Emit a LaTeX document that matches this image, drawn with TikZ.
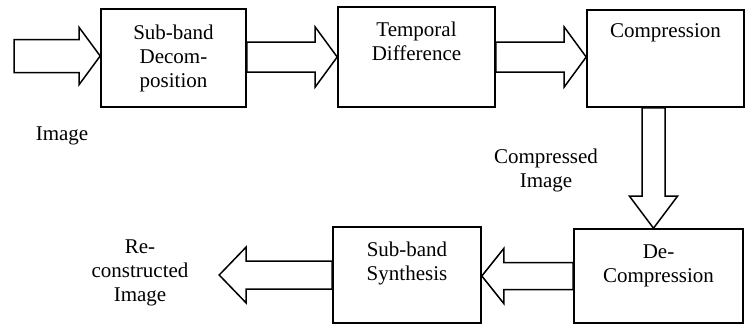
\documentclass[tikz,border=0pt]{standalone}
\usepackage{fontspec}
\setmainfont{Liberation Serif}
\usetikzlibrary{calc}
\tikzset{
  box/.style={draw, line width=1.6pt, inner sep=0pt},
  blk/.style={draw, line width=1.5pt, line join=miter, fill=white},
  txt/.style={align=center, inner sep=0pt, font=\fontsize{21}{24}\selectfont}
}
\newcommand\blkarrow[5]{%
  \coordinate (ba-n) at ($(#2)!#5!(#1)$);
  \draw[blk] ($(#1)!#3!90:(#2)$) -- ($(ba-n)!#3!-90:(#1)$) -- ($(ba-n)!#4!-90:(#1)$)
    -- (#2) -- ($(ba-n)!#4!90:(#1)$) -- ($(ba-n)!#3!90:(#1)$) -- ($(#1)!#3!-90:(#2)$) -- cycle;
}
\begin{document}
\begin{tikzpicture}[x=1pt,y=-1pt]
\useasboundingbox (0,0) rectangle (750,325);
% boxes
\node[box, minimum width=145pt, minimum height=98pt] (b1) at (173.5,58) {};
\node[box, minimum width=157pt, minimum height=100pt] (b2) at (416.5,57) {};
\node[box, minimum width=157pt, minimum height=97pt] (b3) at (665.5,58.5) {};
\node[box, minimum width=169pt, minimum height=94pt] (b4) at (658.5,276) {};
\node[box, minimum width=148pt, minimum height=96pt] (b5) at (407,275) {};
% box texts
\node[txt] (t1) at (b1.center) {Sub-band\\Decom-\\position};
\node[txt] (t2) at ($(b2.north)+(0,35.5)$) {Temporal\\Difference};
\node[txt] (t3) at ($(b3.north)+(0,23.5)$) {Compression};
\node[txt] (t4) at ($(b4.north)+(0,37.5)$) {De-\\Compression};
\node[txt] (t5) at ($(b5.north)+(0,37.5)$) {Sub-band\\Synthesis};
% free labels
\node[txt] (lin) at (62,136) {Image};
\node[txt] (lci) at (546,170) {Compressed\\Image};
\node[txt, minimum width=158pt] (rec) at (140,273) {Re-\\constructed\\Image};
% arrows
\coordinate (in) at (14,56);
\coordinate (in-t) at (b1.west |- in);
\blkarrow{in}{in-t}{16.5pt}{28.5pt}{21pt}
\coordinate (a1-s) at (b1.east |- b2.west);
\blkarrow{a1-s}{b2.west}{15pt}{30pt}{22pt}
\coordinate (a2-t) at (b3.west |- b2.east);
\blkarrow{b2.east}{a2-t}{15pt}{30pt}{22pt}
\coordinate (a3-s) at ($(b3.south)+(-12,0)$);
\coordinate (a3-t) at (a3-s |- b4.north);
\blkarrow{a3-s}{a3-t}{11.5pt}{24pt}{32pt}
\coordinate (a4-t) at (b5.east |- b4.west);
\blkarrow{b4.west}{a4-t}{13.5pt}{27.5pt}{22pt}
\coordinate (a5-t) at (rec.east |- b5.west);
\blkarrow{b5.west}{a5-t}{14pt}{28pt}{27pt}
\end{tikzpicture}
\end{document}
